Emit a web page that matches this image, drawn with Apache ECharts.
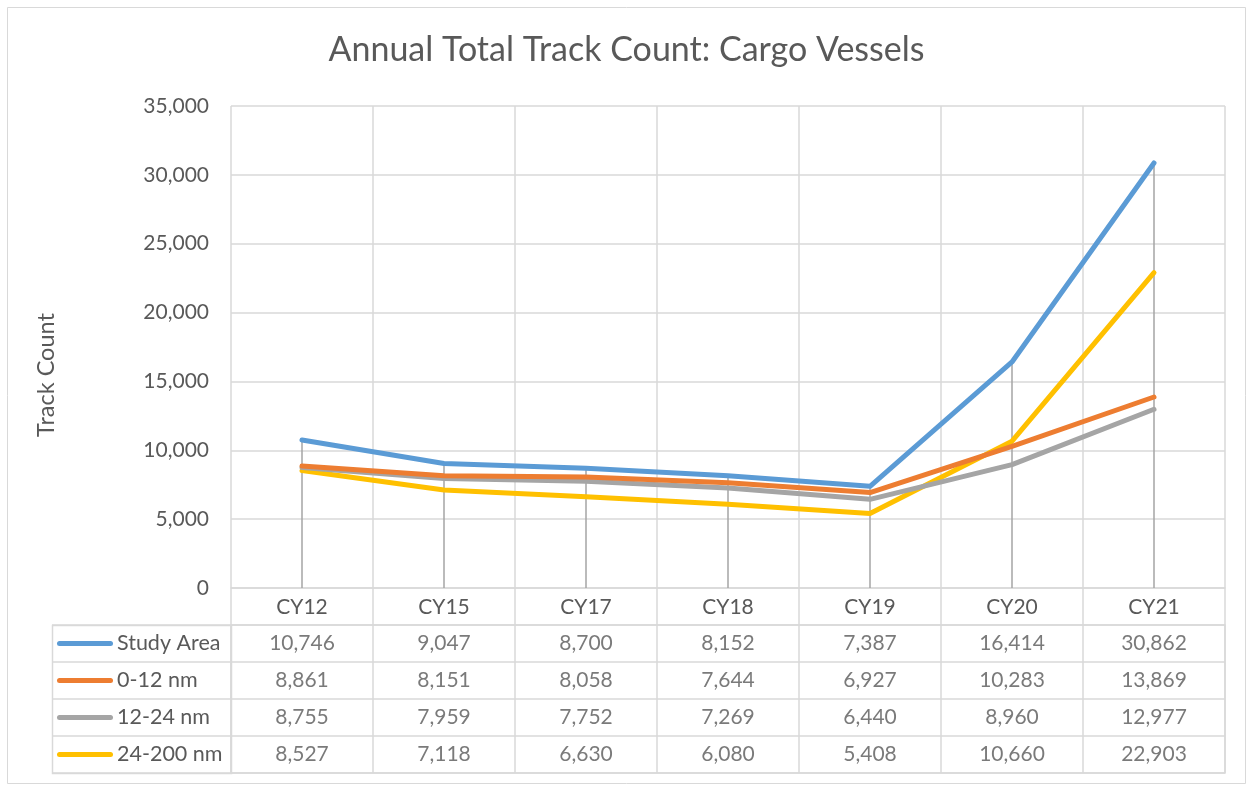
<!DOCTYPE html>
<html>
<head>
<meta charset="utf-8">
<script src="https://cdn.jsdelivr.net/npm/echarts@6/dist/echarts.min.js"></script>
<style>
html,body{margin:0;padding:0;background:#fff;}
#chart{width:1253px;height:785px;}
</style>
</head>
<body>
<div id="chart"></div>
<script>
var categories = ['CY12', 'CY15', 'CY17', 'CY18', 'CY19', 'CY20', 'CY21'];
var seriesNames = ['Study Area', '0-12 nm', '12-24 nm', '24-200 nm'];
var studyArea = [10746, 9047, 8700, 8152, 7387, 16414, 30862];
var nm0to12 = [8861, 8151, 8058, 7644, 6927, 10283, 13869];
var nm12to24 = [8755, 7959, 7752, 7269, 6440, 8960, 12977];
var nm24to200 = [8527, 7118, 6630, 6080, 5408, 10660, 22903];
var colors = ['#5B9BD5', '#ED7D31', '#A5A5A5', '#FFC000'];

var allSeries = [studyArea, nm0to12, nm12to24, nm24to200];
var font = 'Lato, "Open Sans", sans-serif';
var txt = '#595959';
var gridCol = '#d9d9d9';

// drop lines: from the highest point down to the axis
var dropValues = categories.map(function (c, i) {
  return Math.max(studyArea[i], nm0to12[i], nm12to24[i], nm24to200[i]);
});

// table cells
var cellData = [];
allSeries.forEach(function (arr, r) {
  arr.forEach(function (v, c) {
    cellData.push([c, r, v]);
  });
});

var rich = {};
seriesNames.forEach(function (n, i) {
  rich['i' + i] = {width: 56, height: 5, backgroundColor: colors[i], borderRadius: 2.5};
});
rich.t = {fontSize: 21.5, fontFamily: font, color: txt, padding: [0, 0, 0, 4]};

var myChart = echarts.init(document.getElementById('chart'));

var lineSeries = seriesNames.map(function (name, i) {
  return {
    name: name,
    type: 'line',
    xAxisIndex: 0,
    yAxisIndex: 0,
    data: allSeries[i],
    symbol: 'none',
    z: 10 - i,
    lineStyle: {width: 5, color: colors[i], cap: 'round', join: 'round'},
    itemStyle: {color: colors[i]}
  };
});

var option = {
  backgroundColor: '#fff',
  animation: false,
  title: {
    text: 'Annual Total Track Count: Cargo Vessels',
    left: 'center',
    top: 28,
    textStyle: {fontSize: 34, fontWeight: 'normal', color: txt, fontFamily: font}
  },
  graphic: [
    {type: 'rect', shape: {x: 7.5, y: 7.5, width: 1238, height: 776}, style: {fill: 'none', stroke: gridCol, lineWidth: 1}, silent: true},
    {type: 'rect', shape: {x: 52.5, y: 625.5, width: 179, height: 148}, style: {fill: 'none', stroke: gridCol, lineWidth: 1.5}, silent: true},
    {
      type: 'text', x: 46, y: 375, rotation: Math.PI / 2,
      style: {text: 'Track Count', fill: txt, fontSize: 23.5, fontFamily: font, align: 'center', verticalAlign: 'middle'},
      silent: true
    }
  ],
  grid: [
    {left: 231, right: 28, top: 106, bottom: 197},
    {left: 231, right: 28, top: 625, bottom: 12, show: true, borderColor: gridCol, borderWidth: 1.5}
  ],
  xAxis: [
    {
      gridIndex: 0,
      type: 'category',
      data: categories,
      boundaryGap: true,
      axisLine: {show: true, lineStyle: {color: gridCol, width: 1.5}},
      axisTick: {show: true, length: 37, lineStyle: {color: gridCol, width: 1.5}},
      axisLabel: {fontSize: 21, color: txt, fontFamily: font, margin: 9},
      splitLine: {show: true, lineStyle: {color: gridCol, width: 1.5}}
    },
    {
      gridIndex: 1,
      type: 'category',
      data: categories,
      boundaryGap: true,
      axisLine: {show: false},
      axisTick: {show: false},
      axisLabel: {show: false},
      splitLine: {show: true, lineStyle: {color: gridCol, width: 1.5}}
    }
  ],
  yAxis: [
    {
      gridIndex: 0,
      type: 'value',
      min: 0,
      max: 35000,
      interval: 5000,
      axisLine: {show: false},
      axisTick: {show: false},
      axisLabel: {
        fontSize: 21, color: txt, fontFamily: font, margin: 22,
        formatter: function (v) { return v.toLocaleString('en-US'); }
      },
      splitLine: {show: true, lineStyle: {color: gridCol, width: 1.5}}
    },
    {
      gridIndex: 1,
      type: 'category',
      inverse: true,
      data: seriesNames,
      boundaryGap: true,
      axisLine: {show: false},
      axisTick: {show: true, length: 179, lineStyle: {color: gridCol, width: 1.5}},
      axisLabel: {
        align: 'left',
        margin: 174,
        formatter: function (v, i) { return '{i' + i + '|}{t|' + v + '}'; },
        rich: rich
      },
      splitLine: {show: true, lineStyle: {color: gridCol, width: 1.5}}
    }
  ],
  series: [
    {
      name: 'drop',
      type: 'bar',
      xAxisIndex: 0,
      yAxisIndex: 0,
      data: dropValues,
      barWidth: 1.5,
      itemStyle: {color: '#a5a5a5'},
      z: 1,
      silent: true
    }
  ].concat(lineSeries).concat([
    {
      name: 'table',
      type: 'scatter',
      xAxisIndex: 1,
      yAxisIndex: 1,
      data: cellData,
      symbolSize: 1,
      itemStyle: {color: 'transparent'},
      label: {
        show: true,
        position: 'inside',
        fontSize: 21,
        fontFamily: font,
        color: txt,
        formatter: function (p) { return p.value[2].toLocaleString('en-US'); }
      },
      silent: true
    }
  ])
};

myChart.setOption(option);
</script>
</body>
</html>
